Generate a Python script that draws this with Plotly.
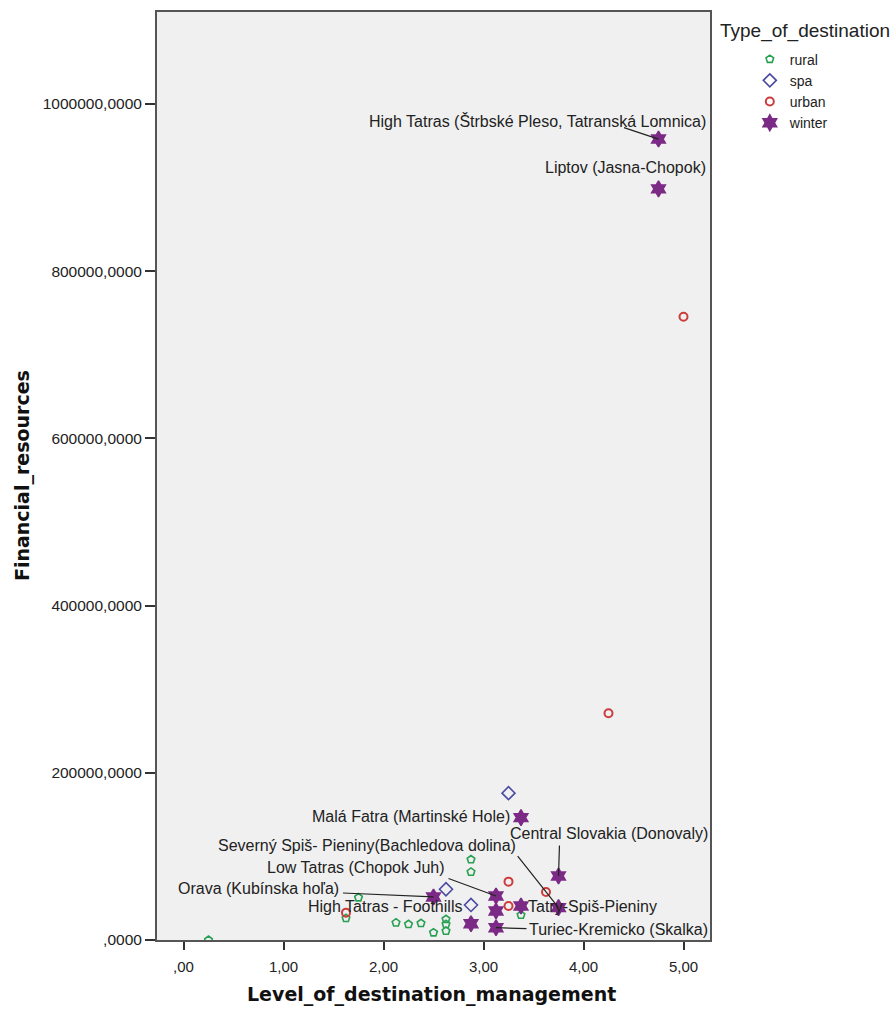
import plotly.graph_objects as go

# Destinations by type: level of destination management vs. financial resources
rural_x = [0.25, 1.75, 1.625, 2.125, 2.25, 2.375, 2.5, 2.625, 2.625, 2.625, 2.875, 2.875, 3.375]
rural_y = [0, 50700, 26000, 20700, 18800, 20000, 8800, 24800, 18800, 10800, 96200, 81400, 29900]

spa_x = [3.25, 2.625, 2.875]
spa_y = [175600, 60700, 41900]

urban_x = [5.0, 4.25, 3.25, 3.625, 3.25, 1.625]
urban_y = [745500, 271200, 69800, 57500, 40700, 32700]

winter_names = [
    "High Tatras (Štrbské Pleso, Tatranská Lomnica)",
    "Liptov (Jasna-Chopok)",
    "Malá Fatra (Martinské Hole)",
    "Central Slovakia (Donovaly)",
    "Severný Spiš- Pieniny(Bachledova dolina)",
    "Low Tatras (Chopok Juh)",
    "Orava (Kubínska hoľa)",
    "High Tatras - Foothills",
    "Tatry-Spiš-Pieniny",
    "Turiec-Kremicko (Skalka)",
    "",
]
winter_x = [4.75, 4.75, 3.375, 3.75, 3.75, 3.125, 2.5, 3.125, 3.375, 3.125, 2.875]
winter_y = [958000, 898400, 146400, 76600, 38700, 52700, 51500, 34700, 40700, 14700, 19500]

x_ticks = [0, 1, 2, 3, 4, 5]
x_ticktext = [",00", "1,00", "2,00", "3,00", "4,00", "5,00"]
y_ticks = [0, 200000, 400000, 600000, 800000, 1000000]
y_ticktext = [",0000", "200000,0000", "400000,0000", "600000,0000", "800000,0000", "1000000,0000"]

FONT = "Liberation Sans, Arial, sans-serif"
BOLD = "DejaVu Sans, Verdana, sans-serif"

fig = go.Figure()
fig.add_trace(go.Scatter(
    x=rural_x, y=rural_y, mode="markers", name="rural",
    marker=dict(symbol="pentagon-open", size=8, color="#27a052", line=dict(width=1.6)),
))
fig.add_trace(go.Scatter(
    x=spa_x, y=spa_y, mode="markers", name="spa",
    marker=dict(symbol="diamond-open", size=10, color="#4a4aa3", line=dict(width=1.6)),
))
fig.add_trace(go.Scatter(
    x=urban_x, y=urban_y, mode="markers", name="urban",
    marker=dict(symbol="circle-open", size=8, color="#cc3c3c", line=dict(width=2)),
))
fig.add_trace(go.Scatter(
    x=winter_x, y=winter_y, mode="markers", name="winter",
    marker=dict(symbol="hexagram", size=12, color="#7b2a85",
                line=dict(width=1.5, color="#7b2a85")),
))

# Label placement per winter destination: (xshift, yshift, xanchor, arrow ax/ay)
label_layout = {
    "High Tatras (Štrbské Pleso, Tatranská Lomnica)": (49, 18, "right", (-36, -12)),
    "Liptov (Jasna-Chopok)": (49, 21, "right", None),
    "Malá Fatra (Martinské Hole)": (-9, 1, "right", None),
    "Central Slovakia (Donovaly)": (151, 42, "right", (1, -32)),
    "Severný Spiš- Pieniny(Bachledova dolina)": (-41, 62, "right", (-42, -53)),
    "Low Tatras (Chopok Juh)": (-49, 28, "right", (-49, -18)),
    "Orava (Kubínska hoľa)": (-93, 8, "right", (-92, -4)),
    "High Tatras - Foothills": (-32, 4, "right", None),
    "Tatry-Spiš-Pieniny": (5, -1, "left", None),
    "Turiec-Kremicko (Skalka)": (31, -2, "left", (32, 1)),
}

annotations = []
for name, xv, yv in zip(winter_names, winter_x, winter_y):
    if name not in label_layout:
        continue
    xs, ys, anchor, arrow = label_layout[name]
    if arrow is not None:
        annotations.append(dict(
            x=xv, y=yv, xref="x", yref="y", text="", showarrow=True,
            ax=arrow[0], ay=arrow[1], arrowhead=0, arrowwidth=1.2,
            arrowcolor="#222222", standoff=0, startstandoff=0,
        ))
    annotations.append(dict(
        x=xv, y=yv, xref="x", yref="y", text=name, showarrow=False,
        xanchor=anchor, yanchor="middle", xshift=xs, yshift=ys,
        font=dict(family=FONT, size=16, color="#222222"),
    ))

# Axis titles and legend heading
annotations.append(dict(
    x=0.497, y=-0.059, xref="paper", yref="paper", text="<b>Level_of_destination_management</b>",
    showarrow=False, xanchor="center", yanchor="middle",
    font=dict(family=BOLD, size=19, color="#111111"),
))
annotations.append(dict(
    x=-0.244, y=0.5, xref="paper", yref="paper", text="<b>Financial_resources</b>",
    showarrow=False, xanchor="center", yanchor="middle", textangle=-90,
    font=dict(family=BOLD, size=19, color="#111111"),
))
annotations.append(dict(
    x=1.015, y=0.979, xref="paper", yref="paper", text="Type_of_destination",
    showarrow=False, xanchor="left", yanchor="middle",
    font=dict(family=FONT, size=19, color="#222222"),
))

fig.update_layout(
    width=895, height=1010,
    margin=dict(l=157, r=185, t=10, b=70),
    paper_bgcolor="white",
    plot_bgcolor="#f0f0f0",
    showlegend=True,
    legend=dict(
        x=1.072, y=0.966, xanchor="left", yanchor="top",
        font=dict(family=FONT, size=14, color="#222222"),
        itemwidth=30, tracegroupgap=0, bgcolor="rgba(0,0,0,0)",
    ),
    annotations=annotations,
    font=dict(family=FONT, size=15, color="#222222"),
)

fig.update_xaxes(
    range=[-0.265, 5.265], tickvals=x_ticks, ticktext=x_ticktext,
    showgrid=False, zeroline=False, showline=True, mirror=True,
    linecolor="#555555", linewidth=2, ticks="outside", ticklen=8,
    tickcolor="#333333", tickwidth=2, ticklabelstandoff=4,
    tickfont=dict(family=FONT, size=15, color="#222222"),
)
fig.update_yaxes(
    range=[0, 1110000], tickvals=y_ticks, ticktext=y_ticktext,
    showgrid=False, zeroline=False, showline=True, mirror=True,
    linecolor="#555555", linewidth=2, ticks="outside", ticklen=10,
    tickcolor="#333333", tickwidth=1.5,
    tickfont=dict(family=FONT, size=15.5, color="#222222"),
)

fig.write_html("out.html")
